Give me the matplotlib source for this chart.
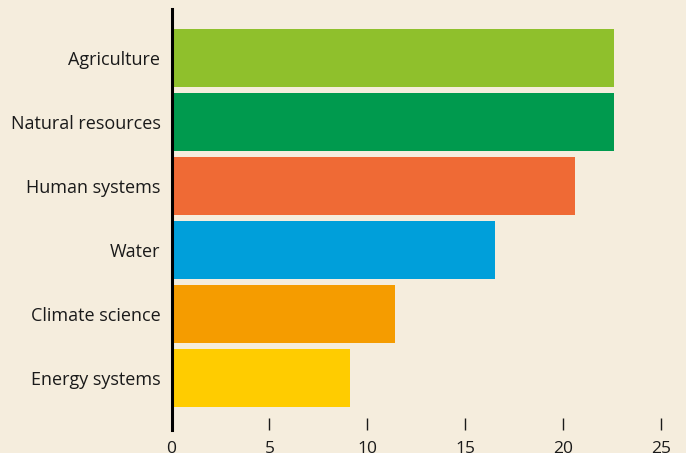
import matplotlib.pyplot as plt

# data, top to bottom as in the picture
categories = ['Agriculture', 'Natural resources', 'Human systems',
              'Water', 'Climate science', 'Energy systems']
values = [22.6, 22.6, 20.6, 16.5, 11.4, 9.1]
colors = ['#8fc02c', '#009a4e', '#ef6a35', '#009fda', '#f59c00', '#ffcc00']
xticks = [0, 5, 10, 15, 20, 25]

bg = '#f5eddd'
plt.rcParams['font.family'] = ['Open Sans', 'DejaVu Sans']

fig = plt.figure(figsize=(6.86, 4.53), dpi=100, facecolor=bg)
ax = fig.add_axes([0.25, 0.0508, 0.7136, 0.9294], facecolor=bg)

pos = list(range(len(categories)))[::-1]
ax.barh(pos, values, height=0.906, color=colors, zorder=2)

ax.set_xlim(0, 25)
ax.set_ylim(-0.8125, 5.766)
ax.set_xticks(xticks)
ax.set_yticks(pos)
ax.set_yticklabels(categories, fontsize=13, color='#1a1a1a')
ax.tick_params(axis='y', length=0, pad=8)
ax.tick_params(axis='x', direction='in', length=8.6, width=1.0,
               labelsize=12.5, pad=8, color='#1a1a1a', labelcolor='#1a1a1a')

for s in ['top', 'right', 'bottom']:
    ax.spines[s].set_visible(False)
ax.spines['left'].set_linewidth(2.2)
ax.spines['left'].set_color('black')

fig.savefig('out.png', dpi=100, facecolor=bg)
